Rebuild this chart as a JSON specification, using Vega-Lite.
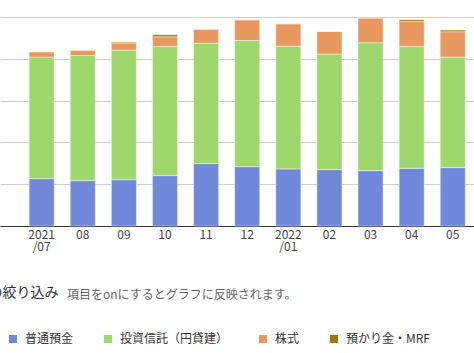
{
  "$schema": "https://vega.github.io/schema/vega-lite/v6.json",
  "width": 474,
  "height": 209,
  "autosize": {"type": "none"},
  "padding": {"top": 17, "left": 0, "right": 0, "bottom": 127},
  "background": "white",
  "config": {
    "font": "Noto Sans CJK JP",
    "view": {"stroke": null}
  },
  "title": {
    "text": "項目をonにするとグラフに反映されます。",
    "orient": "bottom",
    "anchor": "start",
    "frame": "group",
    "dx": 67,
    "dy": -59,
    "fontSize": 12,
    "fontWeight": "normal",
    "color": "#666666"
  },
  "data": {
    "values": [
      {"month": "2021-07", "type": "普通預金", "o": 1, "v": 1.133},
      {"month": "2021-07", "type": "投資信託（円貸建）", "o": 2, "v": 2.908},
      {"month": "2021-07", "type": "株式", "o": 3, "v": 0.128},
      {"month": "2021-07", "type": "預かり金・MRF", "o": 4, "v": 0},
      {"month": "2021-08", "type": "普通預金", "o": 1, "v": 1.085},
      {"month": "2021-08", "type": "投資信託（円貸建）", "o": 2, "v": 2.994},
      {"month": "2021-08", "type": "株式", "o": 3, "v": 0.129},
      {"month": "2021-08", "type": "預かり金・MRF", "o": 4, "v": 0},
      {"month": "2021-09", "type": "普通預金", "o": 1, "v": 1.109},
      {"month": "2021-09", "type": "投資信託（円貸建）", "o": 2, "v": 3.099},
      {"month": "2021-09", "type": "株式", "o": 3, "v": 0.159},
      {"month": "2021-09", "type": "預かり金・MRF", "o": 4, "v": 0.03},
      {"month": "2021-10", "type": "普通預金", "o": 1, "v": 1.205},
      {"month": "2021-10", "type": "投資信託（円貸建）", "o": 2, "v": 3.09},
      {"month": "2021-10", "type": "株式", "o": 3, "v": 0.232},
      {"month": "2021-10", "type": "預かり金・MRF", "o": 4, "v": 0.048},
      {"month": "2021-11", "type": "普通預金", "o": 1, "v": 1.492},
      {"month": "2021-11", "type": "投資信託（円貸建）", "o": 2, "v": 2.883},
      {"month": "2021-11", "type": "株式", "o": 3, "v": 0.336},
      {"month": "2021-11", "type": "預かり金・MRF", "o": 4, "v": 0},
      {"month": "2021-12", "type": "普通預金", "o": 1, "v": 1.42},
      {"month": "2021-12", "type": "投資信託（円貸建）", "o": 2, "v": 3.019},
      {"month": "2021-12", "type": "株式", "o": 3, "v": 0.495},
      {"month": "2021-12", "type": "預かり金・MRF", "o": 4, "v": 0},
      {"month": "2022-01", "type": "普通預金", "o": 1, "v": 1.365},
      {"month": "2022-01", "type": "投資信託（円貸建）", "o": 2, "v": 2.938},
      {"month": "2022-01", "type": "株式", "o": 3, "v": 0.535},
      {"month": "2022-01", "type": "預かり金・MRF", "o": 4, "v": 0},
      {"month": "2022-02", "type": "普通預金", "o": 1, "v": 1.349},
      {"month": "2022-02", "type": "投資信託（円貸建）", "o": 2, "v": 2.763},
      {"month": "2022-02", "type": "株式", "o": 3, "v": 0.543},
      {"month": "2022-02", "type": "預かり金・MRF", "o": 4, "v": 0},
      {"month": "2022-03", "type": "普通預金", "o": 1, "v": 1.325},
      {"month": "2022-03", "type": "投資信託（円貸建）", "o": 2, "v": 3.058},
      {"month": "2022-03", "type": "株式", "o": 3, "v": 0.591},
      {"month": "2022-03", "type": "預かり金・MRF", "o": 4, "v": 0.008},
      {"month": "2022-04", "type": "普通預金", "o": 1, "v": 1.381},
      {"month": "2022-04", "type": "投資信託（円貸建）", "o": 2, "v": 2.914},
      {"month": "2022-04", "type": "株式", "o": 3, "v": 0.599},
      {"month": "2022-04", "type": "預かり金・MRF", "o": 4, "v": 0.04},
      {"month": "2022-05", "type": "普通預金", "o": 1, "v": 1.397},
      {"month": "2022-05", "type": "投資信託（円貸建）", "o": 2, "v": 2.643},
      {"month": "2022-05", "type": "株式", "o": 3, "v": 0.607},
      {"month": "2022-05", "type": "預かり金・MRF", "o": 4, "v": 0.04}
    ]
  },
  "mark": {"type": "bar", "stroke": "white", "strokeWidth": 1, "strokeOpacity": 0.45},
  "encoding": {
    "x": {
      "field": "month",
      "type": "ordinal",
      "sort": null,
      "scale": {"paddingInner": 0.39, "paddingOuter": 0.46, "align": 0.77},
      "axis": {
        "title": "の絞り込み",
        "titleX": -12,
        "titleY": 66,
        "titleAlign": "left",
        "titleBaseline": "middle",
        "titleFontSize": 14,
        "titleFontWeight": "normal",
        "titleColor": "#333333",
        "labelAngle": 0,
        "labelFontSize": 12,
        "labelColor": "#444444",
        "labelPadding": 3,
        "labelLineHeight": 12.5,
        "ticks": false,
        "domainColor": "#333333",
        "domainWidth": 1,
        "labelExpr": "(datum.value == '2021-07' || datum.value == '2022-01') ? [slice(datum.value, 0, 4), '/' + slice(datum.value, 5)] : slice(datum.value, 5)"
      }
    },
    "y": {
      "field": "v",
      "type": "quantitative",
      "aggregate": "sum",
      "stack": "zero",
      "scale": {"domain": [0, 5], "nice": false},
      "axis": {
        "title": null,
        "labels": false,
        "ticks": false,
        "domain": false,
        "values": [0, 1, 2, 3, 4, 5],
        "gridColor": "#cccccc",
        "gridWidth": 1
      }
    },
    "color": {
      "field": "type",
      "type": "nominal",
      "scale": {
        "domain": ["普通預金", "投資信託（円貸建）", "株式", "預かり金・MRF"],
        "range": ["#6f88d9", "#9ed86d", "#e8975f", "#a07508"]
      },
      "legend": {
        "title": null,
        "orient": "none",
        "direction": "horizontal",
        "legendX": 7,
        "legendY": 316,
        "padding": 0,
        "symbolType": "square",
        "symbolSize": 64,
        "symbolStrokeWidth": 0,
        "symbolOpacity": 1,
        "labelFontSize": 12,
        "labelColor": "#333333",
        "labelOffset": 6,
        "columnPadding": 28
      }
    },
    "order": {"field": "o", "type": "quantitative"}
  }
}
